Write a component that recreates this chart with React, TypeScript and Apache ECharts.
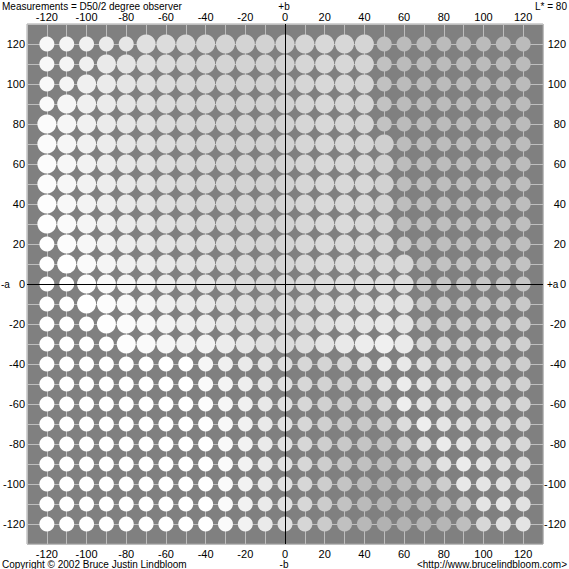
import React, { useEffect, useRef } from "react";
import * as echarts from "echarts";

// a* values (columns, left to right) and b* values (rows, top to bottom)
const A_VALUES = [-120, -110, -100, -90, -80, -70, -60, -50, -40, -30, -20, -10, 0, 10, 20, 30, 40, 50, 60, 70, 80, 90, 100, 110, 120];
const B_VALUES = [120, 110, 100, 90, 80, 70, 60, 50, 40, 30, 20, 10, 0, -10, -20, -30, -40, -50, -60, -70, -80, -90, -100, -110, -120];

// L = large dot, s = small dot (one string per b* row, columns follow A_VALUES)
const SIZE_ROWS = [
  "sssssLLLLLLLLLLLLssssssss",
  "sssLLLLLLLLLLLLLLssssssss",
  "ssLLLLLLLLLLLLLLLssssssss",
  "sLLLLLLLLLLLLLLLLssssssss",
  "LLLLLLLLLLLLLLLLLssssssss",
  "LLLLLLLLLLLLLLLLLLsssssss",
  "LLLLLLLLLLLLLLLLLLsssssss",
  "LLLLLLLLLLLLLLLLLLsssssss",
  "LLLLLLLLLLLLLLLLLLsssssss",
  "LLLLLLLLLLLLLLLLLLsssssss",
  "sLLLLLLLLLLLLLLLLLsssssss",
  "sLLLLLLLLLLLLLLLLLLssssss",
  "ssLLLLLLLLLLLLLLLLLssssss",
  "ssLLLLLLLLLLLLLLLLLssssss",
  "sssLLLLLLLLLLLLLLLLssssss",
  "ssssLLLLLLLLLLLLLLLssssss",
  "sssssssssssssssssssssssss",
  "sssssssssssssssssssssssss",
  "sssssssssssssssssssssssss",
  "sssssssssssssssssssssssss",
  "sssssssssssssssssssssssss",
  "sssssssssssssssssssssssss",
  "sssssssssssssssssssssssss",
  "sssssssssssssssssssssssss",
  "sssssssssssssssssssssssss",
];

// grey level (0-255) of each dot, one array per b* row
const GRAY_ROWS = [
  [248, 245, 241, 235, 230, 224, 220, 216, 214, 212, 211, 210, 211, 214, 216, 215, 213, 192, 187, 187, 187, 187, 187, 187, 187],
  [248, 245, 240, 234, 229, 224, 220, 216, 214, 212, 211, 210, 211, 214, 216, 215, 213, 193, 187, 187, 187, 187, 187, 187, 187],
  [249, 245, 240, 235, 229, 224, 220, 216, 214, 212, 211, 210, 211, 214, 216, 215, 213, 193, 187, 187, 187, 187, 187, 187, 187],
  [250, 246, 240, 235, 229, 224, 220, 216, 214, 212, 211, 210, 211, 214, 216, 215, 213, 194, 187, 187, 187, 187, 187, 187, 187],
  [251, 246, 241, 235, 230, 225, 220, 216, 214, 212, 211, 210, 211, 214, 216, 215, 213, 194, 187, 187, 187, 187, 187, 187, 187],
  [251, 246, 241, 236, 230, 225, 221, 217, 214, 212, 211, 210, 211, 214, 216, 216, 214, 207, 188, 188, 188, 188, 188, 188, 188],
  [252, 247, 242, 236, 231, 226, 221, 217, 215, 212, 211, 210, 211, 214, 216, 216, 214, 208, 188, 188, 188, 188, 188, 188, 188],
  [252, 247, 242, 237, 232, 227, 222, 218, 215, 213, 211, 210, 211, 214, 216, 216, 215, 209, 189, 189, 189, 189, 189, 189, 189],
  [253, 248, 243, 238, 233, 228, 223, 219, 216, 213, 212, 211, 212, 215, 217, 217, 215, 210, 189, 189, 189, 189, 189, 189, 189],
  [254, 250, 245, 240, 235, 230, 225, 221, 218, 215, 213, 212, 212, 215, 217, 218, 216, 212, 190, 190, 190, 190, 190, 190, 190],
  [255, 252, 247, 242, 237, 232, 228, 224, 222, 218, 215, 213, 213, 216, 218, 218, 217, 214, 200, 190, 190, 190, 190, 190, 190],
  [255, 255, 250, 245, 240, 236, 232, 227, 225, 220, 217, 215, 214, 217, 219, 220, 219, 218, 215, 194, 194, 194, 194, 194, 194],
  [255, 255, 253, 249, 244, 240, 235, 230, 228, 222, 218, 215, 215, 218, 220, 222, 222, 222, 220, 198, 197, 197, 197, 197, 197],
  [255, 255, 255, 252, 248, 244, 239, 234, 232, 226, 222, 218, 217, 220, 223, 225, 226, 228, 225, 202, 200, 200, 200, 200, 200],
  [255, 255, 255, 254, 251, 247, 243, 238, 236, 230, 225, 220, 218, 220, 224, 228, 230, 232, 228, 206, 204, 203, 203, 203, 203],
  [255, 255, 255, 255, 253, 250, 246, 242, 242, 236, 230, 224, 220, 222, 228, 233, 237, 240, 234, 215, 210, 208, 207, 207, 207],
  [255, 255, 255, 255, 255, 255, 255, 255, 246, 240, 234, 228, 222, 215, 212, 214, 222, 235, 232, 222, 215, 210, 208, 206, 205],
  [255, 255, 255, 255, 255, 255, 255, 255, 250, 244, 238, 230, 224, 215, 210, 208, 212, 225, 236, 228, 220, 215, 212, 210, 208],
  [255, 255, 255, 255, 255, 255, 255, 255, 252, 246, 240, 232, 225, 215, 208, 205, 205, 215, 238, 228, 222, 218, 215, 213, 212],
  [255, 255, 255, 255, 255, 255, 255, 255, 254, 248, 241, 233, 226, 215, 207, 202, 200, 205, 220, 238, 228, 222, 218, 215, 213],
  [255, 255, 255, 255, 255, 255, 255, 255, 255, 249, 242, 234, 226, 215, 206, 200, 196, 195, 205, 225, 235, 228, 222, 218, 215],
  [255, 255, 255, 255, 255, 255, 255, 255, 255, 250, 242, 234, 226, 215, 205, 198, 192, 190, 195, 205, 225, 235, 228, 222, 218],
  [255, 255, 255, 255, 255, 255, 255, 255, 255, 250, 242, 234, 226, 215, 205, 196, 188, 185, 188, 195, 205, 232, 228, 225, 220],
  [255, 255, 255, 255, 255, 255, 255, 255, 255, 250, 242, 234, 226, 215, 204, 194, 186, 182, 182, 185, 192, 205, 228, 230, 225],
  [255, 255, 255, 255, 255, 255, 255, 255, 255, 250, 242, 234, 226, 214, 203, 192, 184, 178, 178, 180, 182, 190, 215, 225, 228],
];

const TICK_LABELS = [-120, -100, -80, -60, -40, -20, 0, 20, 40, 60, 80, 100, 120];

const TITLE_LEFT = "Measurements = D50/2 degree observer";
const TITLE_RIGHT = "L* = 80";
const FOOT_LEFT = "Copyright \u00A9 2002 Bruce Justin Lindbloom";
const FOOT_RIGHT = "<http://www.brucelindbloom.com>";

const FONT = "'Liberation Sans', Arial, sans-serif";

export default function App() {
  const ref = useRef<HTMLDivElement>(null);

  useEffect(() => {
    document.body.style.margin = "0";
    if (!ref.current) return;
    const chart = echarts.init(ref.current, null, { renderer: "svg" });

    const points: any[] = [];
    B_VALUES.forEach((b, r) => {
      A_VALUES.forEach((a, c) => {
        const g = GRAY_ROWS[r][c];
        const large = SIZE_ROWS[r][c] === "L";
        points.push({
          value: [a, b],
          symbolSize: large ? 19 : 15,
          itemStyle: { color: `rgb(${g},${g},${g})`, opacity: 1 },
        });
      });
    });

    const fmt = (v: number) => (TICK_LABELS.indexOf(v) >= 0 ? String(v) : "");
    const labelBase = { color: "#000", fontSize: 11, fontFamily: FONT, formatter: fmt, showMinLabel: true, showMaxLabel: true };
    const gridLine = { show: true, lineStyle: { color: "#bebebe", width: 1 } };

    const axisCommon = {
      type: "value" as const,
      min: -130,
      max: 130,
      interval: 10,
      axisLine: { show: false },
      axisTick: { show: false },
    };

    const txt = (text: string, x: number, y: number, align: string) => ({
      type: "text",
      x,
      y,
      style: { text, fill: "#000", font: `10px ${FONT}`, align, verticalAlign: "middle" },
    });

    chart.setOption({
      animation: false,
      backgroundColor: "#ffffff",
      grid: {
        left: 24,
        top: 24,
        width: 520,
        height: 520,
        show: true,
        backgroundColor: "#808080",
        borderColor: "#a4a4a4",
        borderWidth: 1,
      },
      xAxis: [
        { ...axisCommon, position: "bottom", splitLine: gridLine, axisLabel: { ...labelBase, margin: 4 } },
        { ...axisCommon, position: "top", splitLine: { show: false }, axisLabel: { ...labelBase, margin: 2 } },
      ],
      yAxis: [
        { ...axisCommon, position: "left", splitLine: gridLine, axisLabel: { ...labelBase, margin: 2 } },
        { ...axisCommon, position: "right", splitLine: { show: false }, axisLabel: { ...labelBase, margin: 23, align: "right" } },
      ],
      series: [
        {
          type: "line",
          data: [],
          z: 2,
          markLine: {
            silent: true,
            symbol: "none",
            label: { show: false },
            lineStyle: { color: "#000", width: 1, type: "solid" },
            data: [{ xAxis: 0 }, { yAxis: 0 }],
          },
        },
        {
          type: "scatter",
          z: 3,
          symbol: "circle",
          itemStyle: { opacity: 1 },
          data: points,
        },
      ],
      graphic: [
        txt(TITLE_LEFT, 2, 6, "left"),
        txt("+b", 284, 6, "center"),
        txt(TITLE_RIGHT, 567, 6, "right"),
        txt(FOOT_LEFT, 2, 564, "left"),
        txt("-b", 284, 564, "center"),
        txt(FOOT_RIGHT, 567, 564, "right"),
        txt("-a", 1, 284, "left"),
        txt("+a", 547, 284, "left"),
      ],
    });

    return () => chart.dispose();
  }, []);

  return <div ref={ref} style={{ width: 569, height: 569 }} />;
}
